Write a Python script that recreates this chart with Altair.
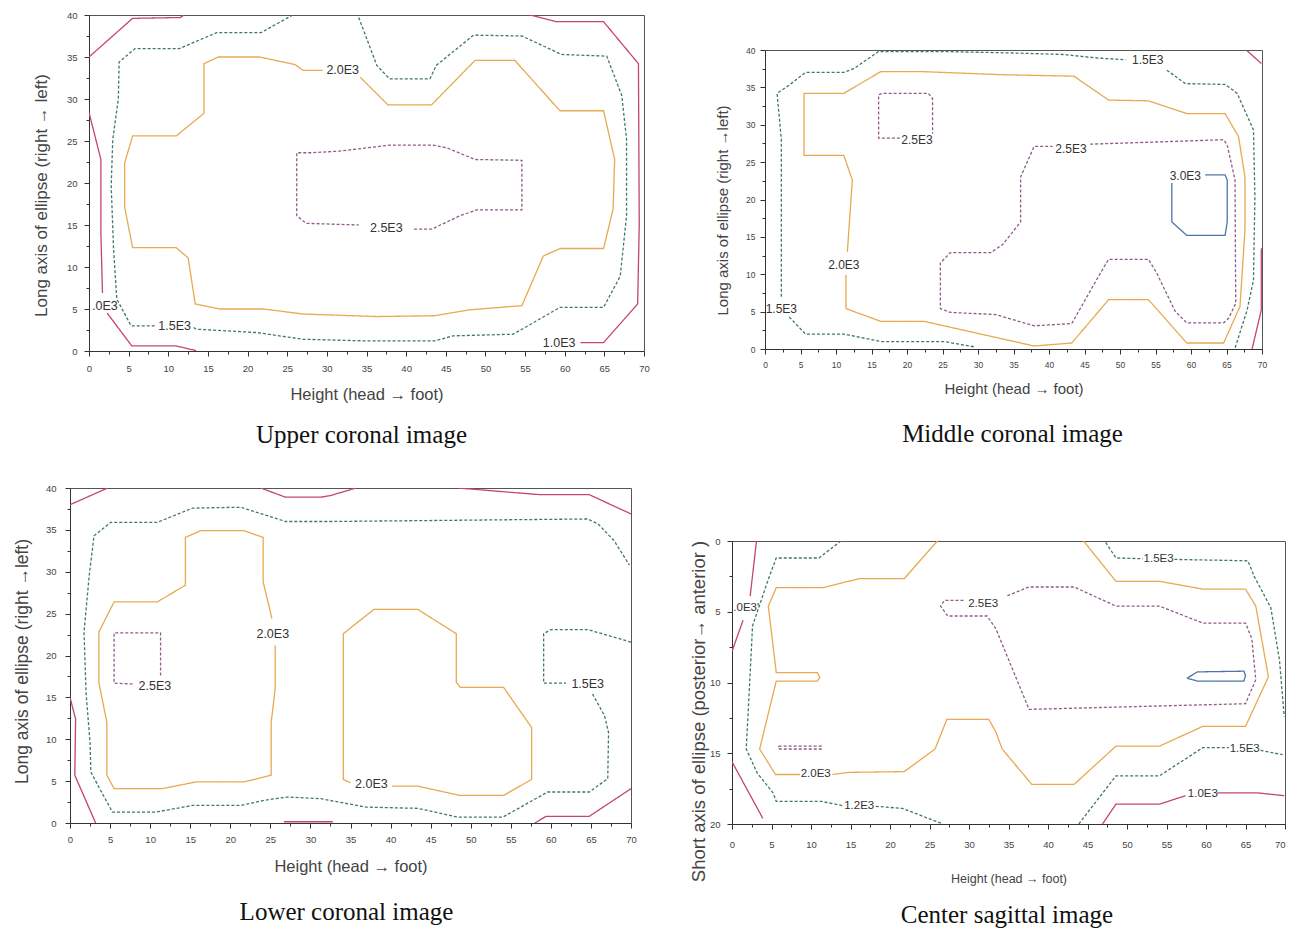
import altair as alt
import pandas as pd

# ---------------- data ----------------
LEVELS = ["1.0E3", "1.5E3", "2.0E3", "2.5E3", "3.0E3"]
COLORS = ["#c4456f", "#3f7868", "#e8a951", "#8e5c8a", "#4e74a8"]
DASHES = [[1, 0], [3, 2], [1, 0], [3, 2], [1, 0]]

X_TICKS = [i * 2.5 for i in range(29)]
Y_TICKS_40 = [i * 2.5 for i in range(17)]
Y_TICKS_20 = [i * 2.5 for i in range(9)]

# Upper coronal image: (level, x values, y values)
UPPER_LINES = [
    ("1.0E3", [0, 5.5, 11.5, 12], [35, 39.6, 39.7, 40]),
    ("1.0E3", [0, 1.5, 1.5, 1.7], [28.4, 22.8, 14.1, 6.9]),
    ("1.0E3", [2.3, 5.4, 11.0, 13.5], [4.5, 0.6, 0.6, 0.05]),
    ("1.0E3", [55.6, 59.0, 64.9, 69.3, 69.4, 69.2, 64.9, 62.0],
              [40, 39.2, 39.2, 34.2, 15, 5.6, 1.0, 1.0]),
    ("1.5E3", [25.7, 21.7, 16.1, 11.4, 5.8, 3.8, 3.7, 3.0, 2.8, 3.1, 3.5, 5.3, 8.4],
              [40, 37.9, 37.9, 36.0, 36.0, 34.4, 30, 25.2, 19.7, 12.1, 6.2, 3.0, 3.0]),
    ("1.5E3", [13.2, 13.5, 21.1, 27, 35, 43.6, 45.9, 53.5, 55, 59.4, 64.9, 67.0, 67.8,
               67.8, 67.2, 65.3, 59.6, 54.6, 48.5, 43.8, 43.0, 37.9, 36.3, 33.9],
              [2.8, 2.6, 2.2, 1.4, 1.2, 1.2, 1.8, 2.0, 2.8, 5.2, 5.2, 8.9, 16.1,
               25.2, 30.4, 35.1, 35.3, 37.5, 37.6, 34.0, 32.4, 32.4, 34.0, 40]),
    ("2.0E3", [34.2, 37.7, 43.2, 48.7, 53.7, 59.4, 64.9, 66.3, 66.1, 64.9, 59.4, 57.3,
               54.6, 48.0, 43.6, 36.3, 27.0, 22.0, 16.5, 13.4, 12.5, 11.0, 5.5, 4.5,
               4.5, 5.5, 11.0, 14.5, 14.5, 16.3, 21.5, 26.0, 27.0, 29.5],
              [32.6, 29.3, 29.3, 34.6, 34.6, 28.6, 28.6, 22.8, 16.9, 12.2, 12.2, 11.3,
               5.4, 4.9, 4.2, 4.1, 4.4, 5.0, 5.0, 5.6, 11.1, 12.3, 12.3, 17.1,
               22.4, 25.6, 25.6, 28.3, 34.2, 35.0, 35.0, 34.1, 33.4, 33.4]),
    ("2.5E3", [41.0, 43.2, 46.8, 48.9, 54.6, 54.6, 48.7, 45.1, 43.4, 37.9, 31.6, 28,
               26.2, 26.2, 27.4, 34.0],
              [14.5, 14.5, 16.1, 16.8, 16.8, 22.7, 22.8, 24.2, 24.5, 24.5, 23.8, 23.6,
               23.6, 16.1, 15.2, 15.0]),
]
UPPER_LABELS = [("2.0E3", 32.0, 33.5), ("2.5E3", 37.5, 14.6), ("1.5E3", 10.8, 3.0),
                (".0E3", 2.0, 5.3), ("1.0E3", 59.3, 1.0)]

# Middle coronal image
MIDDLE_LINES = [
    ("1.5E3", [29.4, 25.2, 16.3, 11.1, 5.7, 3.4], [0.3, 1.0, 1.0, 2.0, 2.0, 4.3]),
    ("1.5E3", [2.3, 2.3, 1.7, 3.4, 5.7, 11.1, 12.5, 16.0, 25, 35, 42, 47.2, 50.8],
              [7.0, 28, 34.2, 35.3, 37.0, 37.0, 37.5, 39.8, 39.8, 39.6, 39.4, 38.9, 38.7]),
    ("1.5E3", [56.6, 59.2, 64.8, 66.5, 68.8, 69.0, 68.8, 67.9, 66.2],
              [37.3, 35.5, 35.4, 34.2, 29.3, 20.4, 9.2, 5.2, 0.1]),
    ("2.0E3", [11.6, 12.3, 11.1, 5.5, 5.5, 11.1, 16.3, 22.4, 33.2, 43.5, 48.4, 54.0,
               59.4, 64.8, 66.7, 67.6, 67.6, 66.9, 64.6, 59.4, 54.0, 48.4, 43.2, 37.9,
               22.4, 16.3, 11.4, 11.4],
              [13.0, 22.6, 25.9, 25.9, 34.2, 34.2, 37.1, 37.1, 36.7, 36.5, 33.3, 33.2,
               31.5, 31.5, 28.4, 23.0, 15.9, 5.7, 0.8, 0.8, 6.6, 6.6, 0.8, 0.4,
               3.7, 3.7, 5.4, 9.9]),
    ("2.5E3", [19.0, 16.0, 16.0, 16.5, 23.0, 23.6, 23.6],
              [28.2, 28.2, 34.0, 34.2, 34.2, 33.5, 28.8]),
    ("2.5E3", [45.8, 64.6, 65.1, 66.2, 66.3, 65.3, 64.6, 59.4, 57.8, 55.2, 54.0, 48.4,
               47.2, 43.2, 37.9, 32.5, 26.1, 24.7, 24.7, 26.1, 31.8, 33.5, 36.0, 36.0,
               37.9, 40.5],
              [27.4, 28.0, 27.3, 22.6, 6.1, 4.1, 3.5, 3.5, 5.0, 10.1, 12.0, 12.0,
               10.1, 3.4, 3.1, 4.6, 4.9, 5.4, 11.5, 12.9, 12.9, 14.0, 17.0, 23.0,
               27.1, 27.1]),
    ("3.0E3", [62.0, 64.8, 65.1, 65.1, 64.8, 59.4, 57.3, 57.3],
              [23.3, 23.3, 22.6, 17.0, 15.2, 15.2, 17.0, 22.2]),
    ("1.0E3", [67.9, 69.9], [39.9, 38.2]),
    ("1.0E3", [70, 69.9, 69.9, 68.6], [13.5, 13.2, 5.2, 0.0]),
]
MIDDLE_LABELS = [("1.5E3", 2.3, 5.4), ("2.0E3", 11.1, 11.2), ("2.5E3", 21.4, 28.0),
                 ("1.5E3", 53.9, 38.7), ("2.5E3", 43.1, 26.8), ("3.0E3", 59.2, 23.1)]

# Lower coronal image
LOWER_LINES = [
    ("1.0E3", [0, 4.7], [38.0, 40]),
    ("1.0E3", [23.8, 26.9, 31.3, 32.5, 35.7], [40, 38.9, 38.9, 39.1, 40]),
    ("1.0E3", [48.4, 58.7, 64.8, 70], [40, 39.2, 39.2, 36.9]),
    ("1.0E3", [0, 0.7, 0.6, 3.2], [15.0, 12.4, 5.7, 0]),
    ("1.0E3", [26.7, 32.8], [0.15, 0.15]),
    ("1.0E3", [58.0, 59.4, 64.8, 70], [0, 0.8, 0.8, 4.1]),
    ("1.5E3", [70, 64.6, 60.0, 59.1, 59.1, 61.9], [21.6, 23.1, 23.1, 22.6, 16.7, 16.7]),
    ("1.5E3", [65.2, 66.7, 67.2, 67.1, 64.8, 59.6, 54.0, 48.4, 43.4, 36.9, 31.3, 27.1,
               24.2, 21.3, 15.3, 10.7, 5.3, 3.7, 2.6, 2.5, 2.0, 1.75, 2.4, 3.0, 5.1,
               10.9, 15.3, 21.3, 26.9, 32.5, 64.6, 65.9, 67.9, 69.8],
              [15.4, 12.8, 10.8, 5.3, 3.7, 3.7, 0.7, 0.7, 1.75, 1.9, 2.9, 3.1,
               2.7, 2.1, 2.1, 1.3, 1.3, 4.1, 6.1, 9.6, 15.6, 22.8, 29.6, 34.3, 35.9,
               35.9, 37.6, 37.7, 36.0, 36.0, 36.3, 35.7, 33.7, 30.8]),
    ("2.0E3", [25.6, 25.6, 25.1, 25.1, 21.7, 15.7, 11.5, 5.5, 4.6, 4.6, 3.6, 3.6, 5.5,
               10.9, 14.4, 14.4, 16.3, 21.7, 24.1, 24.1, 25.2],
              [21.2, 16.0, 12.0, 5.7, 4.9, 4.9, 4.1, 4.1, 5.7, 12.0, 16.8, 22.8, 26.4,
               26.4, 28.4, 34.1, 34.9, 34.9, 34.1, 28.8, 24.4]),
    ("2.0E3", [40.2, 43.4, 48.6, 54.1, 57.6, 57.6, 54.1, 48.7, 48.2, 48.2, 43.4, 37.9,
               34.1, 34.1, 35.0],
              [4.4, 4.4, 3.3, 3.3, 5.2, 11.4, 16.2, 16.2, 16.8, 22.6, 25.5, 25.5,
               22.6, 5.2, 4.8]),
    ("2.5E3", [11.3, 11.3, 5.5, 5.5, 7.8], [17.6, 22.7, 22.7, 16.7, 16.6]),
]
LOWER_LABELS = [("2.0E3", 25.3, 22.6), ("2.5E3", 10.6, 16.4), ("1.5E3", 64.6, 16.6),
                ("2.0E3", 37.6, 4.6)]

# Center sagittal image (y axis runs 0 at top to 20 at bottom)
SAGITTAL_LINES = [
    ("1.0E3", [3.1, 2.3], [0, 3.9]),
    ("1.0E3", [1.4, 0], [5.6, 7.8]),
    ("1.0E3", [0, 3.9], [15.6, 19.6]),
    ("1.0E3", [46.9, 48.6, 54.1, 57.4], [20, 18.6, 18.6, 18.0]),
    ("1.0E3", [61.4, 66.5, 69.9], [17.8, 17.8, 18.0]),
    ("1.5E3", [13.8, 11.0, 5.6, 4.6, 2.6, 2.0, 1.8, 3.2, 5.2, 5.6, 11.3, 14.0],
              [0, 1.2, 1.2, 2.7, 6.0, 12.6, 14.7, 16.4, 17.8, 18.4, 18.4, 18.7]),
    ("1.5E3", [18.2, 21.6, 26.7], [18.75, 18.9, 20]),
    ("1.5E3", [47.3, 48.6, 52.0], [0.1, 1.2, 1.25]),
    ("1.5E3", [56.0, 65.3, 66.1, 68.2, 69.3, 69.9], [1.3, 1.4, 2.5, 4.7, 8.4, 12.4]),
    ("1.5E3", [43.9, 48.6, 54.1, 59.6, 62.9], [20, 16.6, 16.6, 14.6, 14.6]),
    ("1.5E3", [66.9, 69.7], [14.8, 15.1]),
    ("2.0E3", [26.0, 21.8, 16.1, 11.5, 5.6, 4.6, 5.6, 10.8, 11.1, 10.8, 5.6, 3.5, 5.5, 8.6],
              [0, 2.66, 2.66, 3.3, 3.3, 4.6, 9.3, 9.3, 9.65, 9.9, 9.9, 14.7, 16.5, 16.5]),
    ("2.0E3", [12.7, 14.8, 21.8, 25.7, 27.2, 32.5, 33.4, 34.2, 37.95, 43.3, 48.6, 54.1,
               59.6, 65.0, 67.9, 66.3, 65.0, 59.6, 54.1, 48.6, 44.5],
              [16.5, 16.35, 16.3, 14.7, 12.6, 12.6, 13.5, 14.7, 17.2, 17.2, 14.5, 14.5,
               13.1, 13.1, 9.6, 4.6, 3.4, 3.4, 2.85, 2.85, 0]),
    ("2.5E3", [29.3, 26.9, 26.4, 27.3, 32.3, 33.4, 37.6, 65.0, 66.3, 65.8, 65.0, 59.6,
               54.1, 48.6, 43.3, 37.6, 34.7],
              [4.2, 4.2, 4.6, 5.3, 5.3, 6.2, 11.9, 11.5, 9.8, 6.9, 5.8, 5.8,
               4.6, 4.6, 3.25, 3.25, 3.9]),
    ("2.5E3", [5.9, 11.3, 11.3, 5.9, 5.9], [14.5, 14.5, 14.7, 14.7, 14.5]),
    ("3.0E3", [57.6, 58.9, 64.8, 65.0, 64.8, 58.9, 57.6], [9.7, 9.25, 9.2, 9.5, 9.9, 9.9, 9.7]),
]
SAGITTAL_LABELS = [(".0E3'", 1.8, 4.7), ("2.0E3", 10.6, 16.5), ("1.2E3", 16.1, 18.75),
                   ("2.5E3", 31.8, 4.45), ("1.5E3", 54.0, 1.25), ("1.5E3", 64.9, 14.7),
                   ("1.0E3", 59.6, 17.9)]

X_TITLE = "Height (head \u2192 foot)"
Y_TITLE_LONG = "Long axis of ellipse (right \u2192 left)"
Y_TITLE_LONG2 = "Long axis of ellipse (right \u2192left)"
Y_TITLE_SHORT = "Short axis of ellipse (posterior\u2192 anterior )"
CAPTIONS = ["Upper coronal image", "Middle coronal image",
            "Lower coronal image", "Center sagittal image"]

SANS = "Liberation Sans, Arial, sans-serif"
NARROW = "Liberation Sans Narrow, Arial Narrow, Liberation Sans, sans-serif"
SERIF = "Liberation Serif, Times New Roman, serif"


def panel(lines, labels, ymax, yticks, reverse, w, h, ytitle, caption,
          tick_font, tick_fs, xtitle_fs, ytitle_fs, label_fs, lab_pad_x, lab_pad_y,
          xtitle_pad, ytitle_pad, y_extent, cap_offset, ytitle_y, cap_dx,
          ytitle_font=SANS, flush_last=False):
    rows = []
    for si, (lvl, xs, ys) in enumerate(lines):
        for k, (xv, yv) in enumerate(zip(xs, ys)):
            rows.append({"seg": si, "lvl": lvl, "x": xv, "y": yv, "k": k})
    df = pd.DataFrame(rows)
    ldf = pd.DataFrame([{"t": t, "x": xv, "y": yv} for t, xv, yv in labels])

    tick_size = {"condition": {"test": "datum.value % 5 === 0", "value": 5}, "value": 3}
    common = dict(
        grid=False, domainColor="#333", tickColor="#333", labelColor="#444",
        titleColor="#444", labelFont=tick_font, labelFontSize=tick_fs,
        titleFontWeight="normal", labelOverlap=False, labelFlush=False,
        tickSize=tick_size,
        labelExpr="datum.value % 5 === 0 ? '' + datum.value : ''",
    )
    xargs = dict(values=X_TICKS, title=X_TITLE, titleFont=tick_font,
                 titleFontSize=xtitle_fs, labelPadding=lab_pad_x,
                 titlePadding=xtitle_pad, **common)
    if flush_last:
        xargs["labelAlign"] = {"condition": {"test": "datum.value === 70", "value": "right"},
                               "value": "center"}
    xaxis = alt.Axis(**xargs)
    yaxis = alt.Axis(values=yticks, title=ytitle, titleFont=ytitle_font,
                     titleFontSize=ytitle_fs, labelPadding=lab_pad_y,
                     titlePadding=ytitle_pad, minExtent=y_extent, maxExtent=y_extent,
                     titleY=ytitle_y, **common)

    xenc = alt.X("x:Q", scale=alt.Scale(domain=[0, 70], nice=False, zero=False), axis=xaxis)
    yenc = alt.Y("y:Q", scale=alt.Scale(domain=[0, ymax], nice=False, zero=False,
                                        reverse=reverse), axis=yaxis)

    contour = alt.Chart(df).mark_line(strokeWidth=1.3, clip=True).encode(
        x=xenc, y=yenc,
        detail="seg:N",
        order="k:Q",
        color=alt.Color("lvl:N", scale=alt.Scale(domain=LEVELS, range=COLORS), legend=None),
        strokeDash=alt.StrokeDash("lvl:N", scale=alt.Scale(domain=LEVELS, range=DASHES),
                                  legend=None),
    )
    text = alt.Chart(ldf).mark_text(font=tick_font, fontSize=label_fs, color="#333",
                                    align="center", baseline="middle").encode(
        x=xenc, y=yenc, text="t:N")
    return alt.layer(contour, text).properties(
        width=w, height=h,
        view=alt.ViewBackground(stroke="#555", strokeWidth=1, strokeOpacity=1),
        title=alt.TitleParams(caption, orient="bottom", font=SERIF, fontSize=25,
                              fontWeight="normal", color="#111", offset=cap_offset,
                              anchor="middle", dx=cap_dx),
    )


def spacer(w, h):
    return alt.Chart(pd.DataFrame({"v": [0]})).mark_rect(opacity=0).encode(
        x=alt.value(0), x2=alt.value(w), y=alt.value(0), y2=alt.value(h)
    ).properties(width=w, height=h, view=alt.ViewBackground(strokeOpacity=0))


p1 = panel(UPPER_LINES, UPPER_LABELS, 40, Y_TICKS_40, False, 555, 336, Y_TITLE_LONG,
           CAPTIONS[0], SANS, 9.5, 16.5, 17, 12.5, 7, 7, 14, 16, 23, 20, 180, -5)
p2 = panel(MIDDLE_LINES, MIDDLE_LABELS, 40, Y_TICKS_40, False, 497, 299, Y_TITLE_LONG2,
           CAPTIONS[1], SANS, 8.5, 15, 15, 12, 6.5, 5, 12, 15, 20, 26, 160, -1)
p3 = panel(LOWER_LINES, LOWER_LABELS, 40, Y_TICKS_40, False, 561, 335, Y_TITLE_LONG2,
           CAPTIONS[2], SANS, 9.5, 16.5, 17.5, 12.5, 6.5, 9, 14.5, 14, 25, 25, 173, -4)
p4 = panel(SAGITTAL_LINES, SAGITTAL_LABELS, 20, Y_TICKS_20, True, 553, 283, Y_TITLE_SHORT,
           CAPTIONS[3], NARROW, 9.5, 12.5, 18.5, 11.5, 10, 7, 23.5, 3, 21, 18, 170, -1.5,
           flush_last=True)

col_a = alt.vconcat(alt.hconcat(spacer(22.7, 1), p1, spacing=0),
                    spacer(1, 32.7), alt.hconcat(spacer(3.9, 1), p3, spacing=0), spacing=0)
col_b = alt.vconcat(
    alt.hconcat(spacer(62.1, 1), alt.vconcat(spacer(1, 30), p2, spacing=0), spacing=0),
    spacer(1, 86.7), alt.hconcat(spacer(36.4, 1), p4, spacing=0), spacing=0)

chart = alt.hconcat(col_a, spacer(1, 1), col_b, spacing=0).properties(
    padding={"left": 0, "top": 1, "right": 0, "bottom": 5}
).configure_view(strokeOpacity=0).configure(background="white")

chart.save("out.html", embed_options={"renderer": "svg", "actions": False})
